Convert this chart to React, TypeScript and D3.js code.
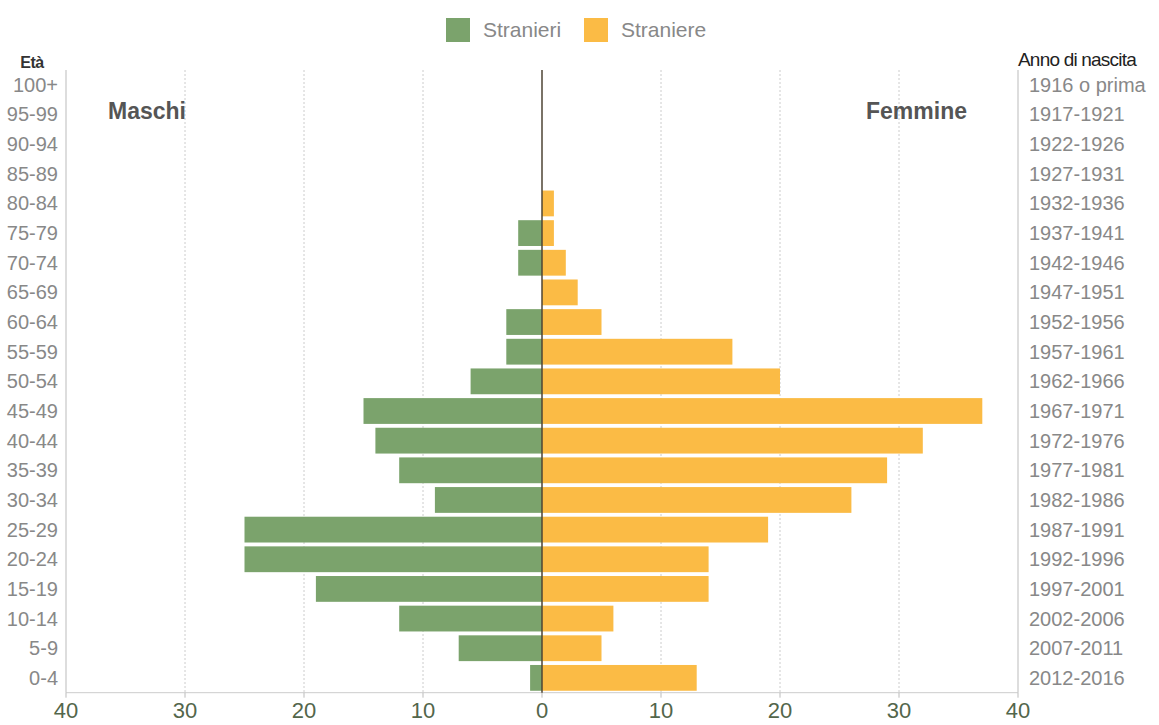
import React from "react";
import * as d3 from "d3";

const ages = ["100+","95-99","90-94","85-89","80-84","75-79","70-74","65-69","60-64","55-59","50-54","45-49","40-44","35-39","30-34","25-29","20-24","15-19","10-14","5-9","0-4"];
const births = ["1916 o prima","1917-1921","1922-1926","1927-1931","1932-1936","1937-1941","1942-1946","1947-1951","1952-1956","1957-1961","1962-1966","1967-1971","1972-1976","1977-1981","1982-1986","1987-1991","1992-1996","1997-2001","2002-2006","2007-2011","2012-2016"];
const maschi = [0,0,0,0,0,2,2,0,3,3,6,15,14,12,9,25,25,19,12,7,1];
const femmine = [0,0,0,0,1,1,2,3,5,16,20,37,32,29,26,19,14,14,6,5,13];
const xTicks = [-40,-30,-20,-10,0,10,20,30,40];
const seriesNames = ["Stranieri","Straniere"];

const W = 1159, H = 725;
const FONT = "'Liberation Sans', Arial, sans-serif";
const GREEN = "#7ba36c";
const ORANGE = "#fbbb45";

export default function App() {
  const x = d3.scaleLinear().domain([-40, 40]).range([66, 1018]);
  const y = d3.scaleBand<string>().domain(ages).range([70, 692.7]).paddingInner(0.13).paddingOuter(0.065);
  const top = 70, bottom = 692.7;
  return (
    <svg width={W} height={H} style={{ position: "absolute", left: 0, top: 0, background: "#fff" }} fontFamily={FONT}>
      {/* legend */}
      <rect x={446} y={18} width={24} height={24} fill={GREEN} />
      <text x={483} y={37} fontSize={21} fill="#888">{seriesNames[0]}</text>
      <rect x={584} y={18} width={24} height={24} fill={ORANGE} />
      <text x={621} y={37} fontSize={21} fill="#888">{seriesNames[1]}</text>

      {/* grid lines */}
      {xTicks.filter(t => t !== 0 && Math.abs(t) !== 40).map(t => (
        <line key={"g" + t} x1={x(t)} x2={x(t)} y1={top} y2={bottom} stroke="#ccc" strokeDasharray="2,2" />
      ))}
      {/* axes lines */}
      <line x1={x(-40)} x2={x(-40)} y1={top} y2={bottom} stroke="#bbb" />
      <line x1={x(40)} x2={x(40)} y1={top} y2={bottom} stroke="#bbb" />
      <line x1={x(-40)} x2={x(40)} y1={bottom} y2={bottom} stroke="#ccc" />
      {xTicks.map(t => (
        <line key={"t" + t} x1={x(t)} x2={x(t)} y1={bottom} y2={bottom + 5} stroke="#bbb" />
      ))}

      {/* bars */}
      {ages.map((a, i) => (
        <g key={a}>
          {maschi[i] > 0 && (
            <rect x={x(-maschi[i])} y={y(a)} width={x(0) - x(-maschi[i])} height={y.bandwidth()} fill={GREEN} />
          )}
          {femmine[i] > 0 && (
            <rect x={x(0)} y={y(a)} width={x(femmine[i]) - x(0)} height={y.bandwidth()} fill={ORANGE} />
          )}
        </g>
      ))}
      <line x1={x(0)} x2={x(0)} y1={top} y2={bottom} stroke="#4e4434" strokeWidth={1.5} />

      {/* age labels */}
      {ages.map(a => (
        <text key={"l" + a} x={58} y={(y(a) as number) + y.bandwidth() / 2} dy="0.35em" textAnchor="end" fontSize={20} fill="#888">{a}</text>
      ))}
      {births.map((b, i) => (
        <text key={"r" + b} x={1029} y={(y(ages[i]) as number) + y.bandwidth() / 2} dy="0.35em" fontSize={20} fill="#888">{b}</text>
      ))}
      {xTicks.map(t => (
        <text key={"x" + t} x={x(t)} y={718} textAnchor="middle" fontSize={22} fill="#53664b">{Math.abs(t)}</text>
      ))}

      <text x={32} y={68} textAnchor="middle" fontSize={16} fontWeight="bold" fill="#333" letterSpacing={-0.5}>Età</text>
      <text x={1018} y={66} fontSize={19} fill="#222" letterSpacing={-0.8}>Anno di nascita</text>
      <text x={108} y={119} fontSize={23} fontWeight="bold" fill="#555">Maschi</text>
      <text x={866} y={119} fontSize={23} fontWeight="bold" fill="#555">Femmine</text>
    </svg>
  );
}
